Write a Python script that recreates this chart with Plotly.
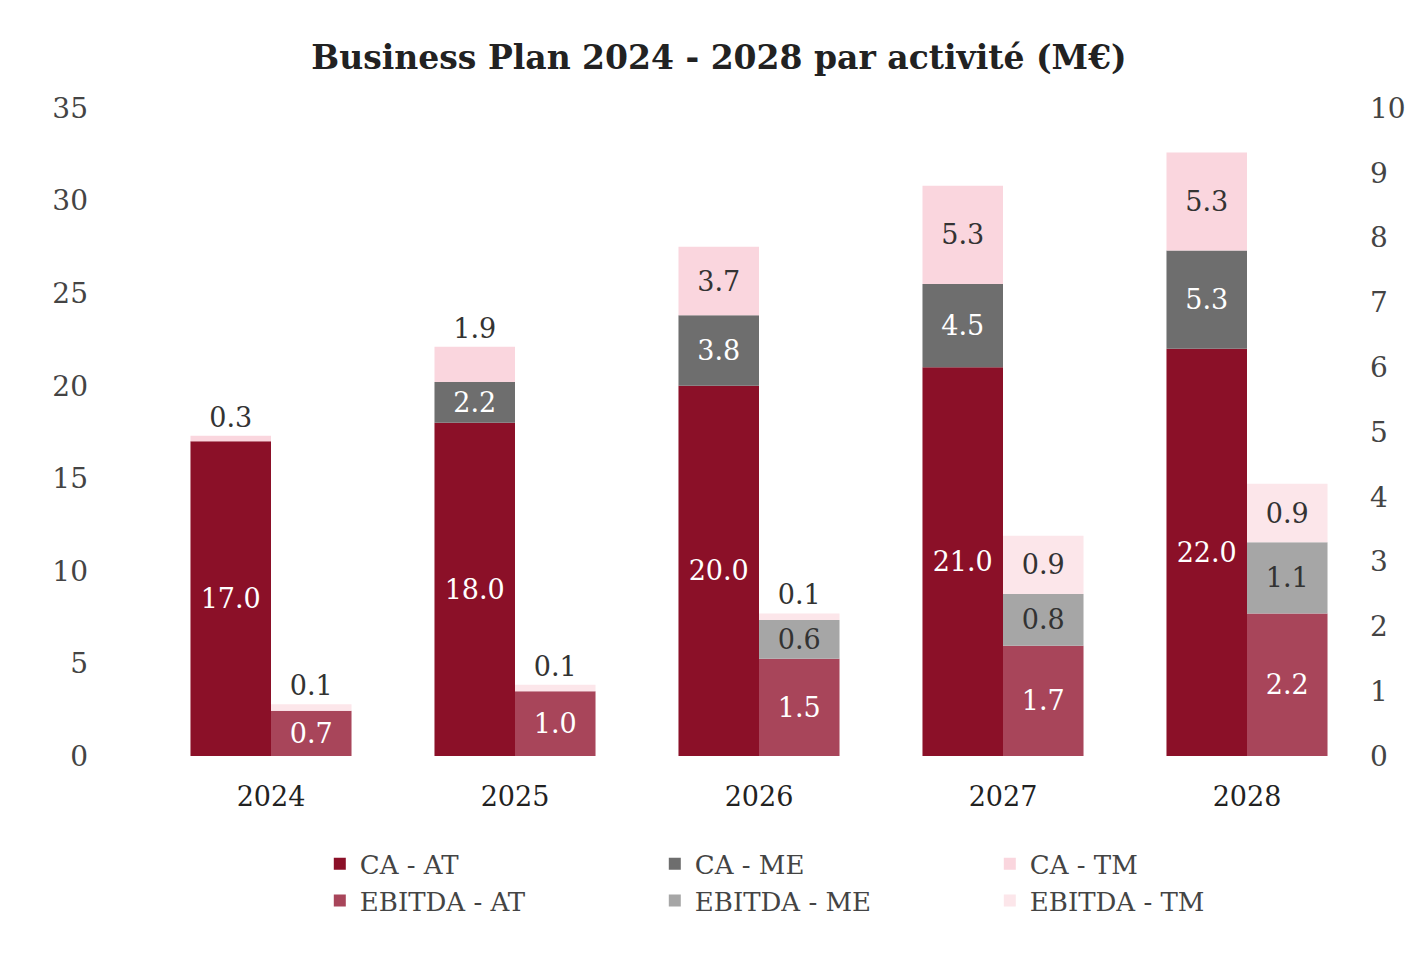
import plotly.graph_objects as go

years = ["2024", "2025", "2026", "2027", "2028"]
ca_at = [17.0, 18.0, 20.0, 21.0, 22.0]
ca_me = [0.0, 2.2, 3.8, 4.5, 5.3]
ca_tm = [0.3, 1.9, 3.7, 5.3, 5.3]
eb_at = [0.7, 1.0, 1.5, 1.7, 2.2]
eb_me = [0.0, 0.0, 0.6, 0.8, 1.1]
eb_tm = [0.1, 0.1, 0.1, 0.9, 0.9]

FONT = "DejaVu Serif"
W = 0.33
fig = go.Figure()

def add(name, vals, bases, color, tcolor, yaxis, offset, small):
    texts = [f"{v:.1f}" if v > 0 else "" for v in vals]
    pos = ["outside" if v < small else "inside" for v in vals]
    fig.add_trace(go.Bar(
        name=name, x=years, y=vals, base=bases, width=W, offset=offset,
        marker=dict(color=color, line=dict(width=0)), yaxis=yaxis,
        text=texts, textposition=pos, insidetextanchor="middle",
        textfont=dict(color=tcolor, size=27, family=FONT),
        outsidetextfont=dict(color="#333", size=27, family=FONT),
        constraintext="none", cliponaxis=False))

b1 = [0]*5
b2 = ca_at
b3 = [a+b for a, b in zip(ca_at, ca_me)]
e2 = eb_at
e3 = [a+b for a, b in zip(eb_at, eb_me)]

add("CA - AT", ca_at, b1, "#8B1028", "white", "y", -W, 0)
add("CA - ME", ca_me, b2, "#6E6E6E", "white", "y", -W, 0)
add("CA - TM", ca_tm, b3, "#FAD6DE", "#333", "y", -W, 2.5)
add("EBITDA - AT", eb_at, b1, "#A8455A", "white", "y2", 0, 0)
add("EBITDA - ME", eb_me, e2, "#A6A6A6", "#333", "y2", 0, 0)
add("EBITDA - TM", eb_tm, e3, "#FCE6EA", "#333", "y2", 0, 0.5)

fig.update_layout(
    width=1422, height=954, barmode="overlay", plot_bgcolor="white", paper_bgcolor="white",
    font=dict(family=FONT, size=26, color="#333"),
    title=dict(text="<b>Business Plan 2024 - 2028 par activité (M€)</b>", x=0.5, y=0.96,
               font=dict(size=33, color="#222", family=FONT)),
    margin=dict(l=141, r=61, t=100, b=206),
    xaxis=dict(showgrid=False, tickfont=dict(size=27, color="#222"), ticks="", showline=False,
               ticklabelstandoff=22),
    yaxis=dict(range=[0, 35], dtick=5, showgrid=False, zeroline=False, ticks="",
               tickfont=dict(size=28, color="#444"), ticklabelstandoff=60),
    yaxis2=dict(range=[0, 10], dtick=1, overlaying="y", side="right", showgrid=False,
                zeroline=False, ticks="", tickfont=dict(size=28, color="#444")),
    legend=dict(orientation="h", x=0.14, y=-0.13, xanchor="left", yanchor="top",
                entrywidth=290, font=dict(size=26, color="#444"), traceorder="normal"),
    showlegend=True,
)
fig.write_html("out.html")
